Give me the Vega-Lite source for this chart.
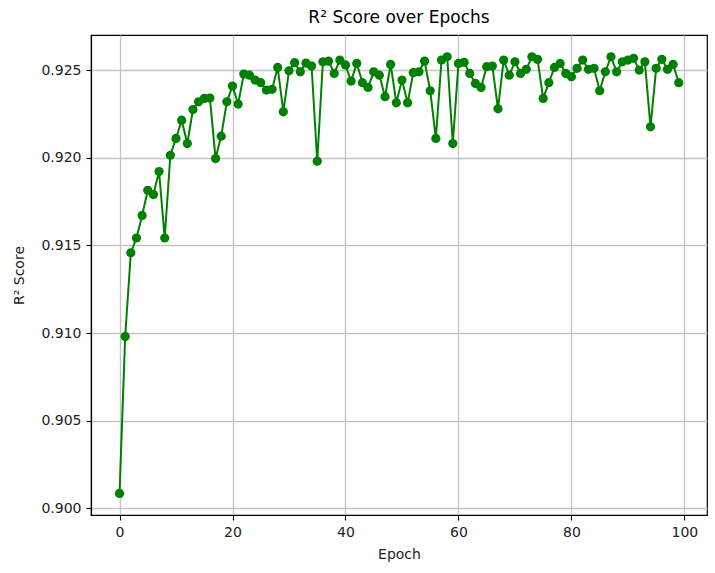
{
  "$schema": "https://vega.github.io/schema/vega-lite/v6.json",
  "width": 616,
  "height": 480,
  "autosize": {"type": "none"},
  "padding": {"left": 91, "top": 35, "right": 8, "bottom": 58},
  "background": "white",
  "title": {"text": "R² Score over Epochs", "font": "DejaVu Sans", "fontSize": 17, "fontWeight": "normal", "color": "black", "offset": 8},
  "config": {
    "view": {"stroke": "black", "strokeWidth": 1.2},
    "axis": {
      "labelFont": "DejaVu Sans", "titleFont": "DejaVu Sans",
      "labelFontSize": 14, "titleFontSize": 14, "titleFontWeight": "normal",
      "labelColor": "#222222", "titleColor": "#222222",
      "tickColor": "black", "tickSize": 5, "tickWidth": 1.1,
      "domainColor": "black", "domainWidth": 1.2,
      "gridColor": "#c4c4c4", "gridWidth": 1.3, "labelPadding": 5
    }
  },
  "data": {"values": [
    {"epoch": 0, "r2": 0.90085}, {"epoch": 1, "r2": 0.9098}, {"epoch": 2, "r2": 0.91458}, {"epoch": 3, "r2": 0.91542},
    {"epoch": 4, "r2": 0.91671}, {"epoch": 5, "r2": 0.91814}, {"epoch": 6, "r2": 0.9179}, {"epoch": 7, "r2": 0.91921},
    {"epoch": 8, "r2": 0.91542}, {"epoch": 9, "r2": 0.92014}, {"epoch": 10, "r2": 0.9211}, {"epoch": 11, "r2": 0.92214},
    {"epoch": 12, "r2": 0.92081}, {"epoch": 13, "r2": 0.92275}, {"epoch": 14, "r2": 0.92319}, {"epoch": 15, "r2": 0.92338},
    {"epoch": 16, "r2": 0.9234}, {"epoch": 17, "r2": 0.91995}, {"epoch": 18, "r2": 0.92123}, {"epoch": 19, "r2": 0.92319},
    {"epoch": 20, "r2": 0.92409}, {"epoch": 21, "r2": 0.92306}, {"epoch": 22, "r2": 0.92477}, {"epoch": 23, "r2": 0.92471},
    {"epoch": 24, "r2": 0.92443}, {"epoch": 25, "r2": 0.92428}, {"epoch": 26, "r2": 0.92386}, {"epoch": 27, "r2": 0.9239},
    {"epoch": 28, "r2": 0.92515}, {"epoch": 29, "r2": 0.92262}, {"epoch": 30, "r2": 0.92496}, {"epoch": 31, "r2": 0.92542},
    {"epoch": 32, "r2": 0.9249}, {"epoch": 33, "r2": 0.9254}, {"epoch": 34, "r2": 0.92523}, {"epoch": 35, "r2": 0.9198},
    {"epoch": 36, "r2": 0.92547}, {"epoch": 37, "r2": 0.92551}, {"epoch": 38, "r2": 0.92481}, {"epoch": 39, "r2": 0.92557},
    {"epoch": 40, "r2": 0.92529}, {"epoch": 41, "r2": 0.92437}, {"epoch": 42, "r2": 0.92538}, {"epoch": 43, "r2": 0.92428},
    {"epoch": 44, "r2": 0.92401}, {"epoch": 45, "r2": 0.9249}, {"epoch": 46, "r2": 0.92471}, {"epoch": 47, "r2": 0.92348},
    {"epoch": 48, "r2": 0.92532}, {"epoch": 49, "r2": 0.92313}, {"epoch": 50, "r2": 0.92443}, {"epoch": 51, "r2": 0.92313},
    {"epoch": 52, "r2": 0.92485}, {"epoch": 53, "r2": 0.9249}, {"epoch": 54, "r2": 0.92551}, {"epoch": 55, "r2": 0.92382},
    {"epoch": 56, "r2": 0.9211}, {"epoch": 57, "r2": 0.92557}, {"epoch": 58, "r2": 0.92576}, {"epoch": 59, "r2": 0.92081},
    {"epoch": 60, "r2": 0.92538}, {"epoch": 61, "r2": 0.92544}, {"epoch": 62, "r2": 0.92481}, {"epoch": 63, "r2": 0.92424},
    {"epoch": 64, "r2": 0.92401}, {"epoch": 65, "r2": 0.92519}, {"epoch": 66, "r2": 0.92523}, {"epoch": 67, "r2": 0.92279},
    {"epoch": 68, "r2": 0.92557}, {"epoch": 69, "r2": 0.92471}, {"epoch": 70, "r2": 0.92547}, {"epoch": 71, "r2": 0.92481},
    {"epoch": 72, "r2": 0.92504}, {"epoch": 73, "r2": 0.92576}, {"epoch": 74, "r2": 0.92561}, {"epoch": 75, "r2": 0.92338},
    {"epoch": 76, "r2": 0.92428}, {"epoch": 77, "r2": 0.92515}, {"epoch": 78, "r2": 0.92538}, {"epoch": 79, "r2": 0.92481},
    {"epoch": 80, "r2": 0.92462}, {"epoch": 81, "r2": 0.9251}, {"epoch": 82, "r2": 0.92557}, {"epoch": 83, "r2": 0.92504},
    {"epoch": 84, "r2": 0.9251}, {"epoch": 85, "r2": 0.92382}, {"epoch": 86, "r2": 0.9249}, {"epoch": 87, "r2": 0.92576},
    {"epoch": 88, "r2": 0.9249}, {"epoch": 89, "r2": 0.92547}, {"epoch": 90, "r2": 0.92557}, {"epoch": 91, "r2": 0.92567},
    {"epoch": 92, "r2": 0.925}, {"epoch": 93, "r2": 0.92547}, {"epoch": 94, "r2": 0.92176}, {"epoch": 95, "r2": 0.9251},
    {"epoch": 96, "r2": 0.92561}, {"epoch": 97, "r2": 0.92504}, {"epoch": 98, "r2": 0.92532}, {"epoch": 99, "r2": 0.92428}
  ]},
  "mark": {"type": "line", "color": "#008000", "strokeWidth": 2, "clip": true,
           "point": {"filled": true, "size": 85, "color": "#008000", "opacity": 1}},
  "encoding": {
    "x": {"field": "epoch", "type": "quantitative",
          "scale": {"domain": [-5.05, 104.0], "nice": false, "zero": false},
          "axis": {"values": [0, 20, 40, 60, 80, 100], "title": "Epoch", "titlePadding": 8, "grid": true}},
    "y": {"field": "r2", "type": "quantitative",
          "scale": {"domain": [0.89962, 0.927], "nice": false, "zero": false},
          "axis": {"values": [0.900, 0.905, 0.910, 0.915, 0.920, 0.925], "format": ".3f", "title": "R² Score", "titlePadding": 14, "grid": true}}
  }
}
